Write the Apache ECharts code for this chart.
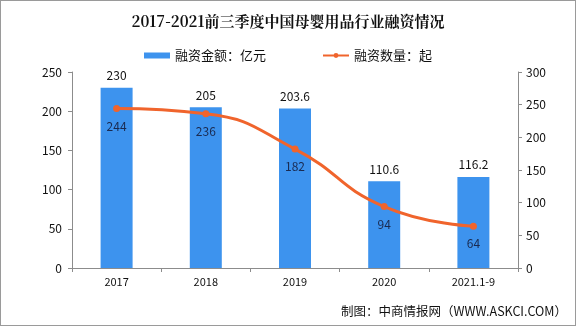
<!DOCTYPE html>
<html>
<head>
<meta charset="utf-8">
<script src="https://cdn.jsdelivr.net/npm/echarts@6/dist/echarts.min.js"></script>
<style>
  html, body { margin: 0; padding: 0; background: #fff; }
  #chart { width: 576px; height: 326px; box-sizing: border-box; border: 1px solid #9a9a9a; }
</style>
</head>
<body>
<div id="chart"></div>
<script>
// 2017-2021前三季度中国母婴用品行业融资情况
const categories = ['2017', '2018', '2019', '2020', '2021.1-9'];
const amountValues = [230, 205, 203.6, 110.6, 116.2];   // 融资金额（亿元）
const countValues = [244, 236, 182, 94, 64];             // 融资数量（起）
const leftTicks = { min: 0, max: 250, interval: 50 };
const rightTicks = { min: 0, max: 300, interval: 50 };

const chart = echarts.init(document.getElementById('chart'), null, { renderer: 'canvas' });
const font = '"SimSun", "Noto Sans CJK SC", sans-serif';
const axisGray = '#8c8c8c';

chart.setOption({
  animation: false,
  title: {
    text: '2017-2021前三季度中国母婴用品行业融资情况',
    left: 'center',
    top: 8,
    textStyle: { fontFamily: '"Noto Serif CJK SC", "Noto Sans CJK SC", serif', fontSize: 15, fontWeight: 'bold', color: '#111' }
  },
  legend: {
    top: 43,
    left: 'center',
    itemGap: 56,
    itemWidth: 26,
    itemHeight: 6,
    textStyle: { fontFamily: font, fontSize: 13, color: '#111' },
    data: [
      { name: '融资金额：亿元', icon: 'rect' },
      { name: '融资数量：起' }
    ]
  },
  grid: { left: 71, right: 57, top: 71, bottom: 57 },
  xAxis: {
    type: 'category',
    data: categories,
    axisLine: { lineStyle: { color: axisGray } },
    axisTick: { show: true, length: 4, lineStyle: { color: axisGray } },
    axisLabel: { color: '#111', fontSize: 11, fontFamily: font, margin: 8 }
  },
  yAxis: [
    {
      type: 'value', min: leftTicks.min, max: leftTicks.max, interval: leftTicks.interval,
      axisLine: { show: true, lineStyle: { color: axisGray } },
      axisTick: { show: true, length: 4, lineStyle: { color: axisGray } },
      splitLine: { show: false },
      axisLabel: { color: '#111', fontSize: 12, fontFamily: font, margin: 10 }
    },
    {
      type: 'value', min: rightTicks.min, max: rightTicks.max, interval: rightTicks.interval,
      position: 'right',
      axisLine: { show: true, lineStyle: { color: axisGray } },
      axisTick: { show: true, length: 4, lineStyle: { color: axisGray } },
      splitLine: { show: false },
      axisLabel: { color: '#111', fontSize: 12, fontFamily: font, margin: 8 }
    }
  ],
  series: [
    {
      name: '融资金额：亿元',
      type: 'bar',
      yAxisIndex: 0,
      data: amountValues,
      barWidth: 32,
      itemStyle: { color: '#3d93ee' },
      label: { show: true, position: 'top', color: '#111', fontSize: 12, fontFamily: font, distance: 6 }
    },
    {
      name: '融资数量：起',
      type: 'line',
      yAxisIndex: 1,
      data: countValues,
      smooth: 0.5,
      symbol: 'circle',
      symbolSize: 7,
      lineStyle: { color: '#f0642c', width: 3 },
      itemStyle: { color: '#f0642c' },
      label: { show: true, position: 'bottom', color: '#1a2a50', fontSize: 12, fontFamily: font, distance: 8 }
    }
  ],
  graphic: [
    {
      type: 'text',
      right: 8,
      bottom: 7,
      style: { text: '制图：中商情报网（WWW.ASKCI.COM）', fill: '#111', font: '12.5px ' + font }
    }
  ]
});
</script>
</body>
</html>
